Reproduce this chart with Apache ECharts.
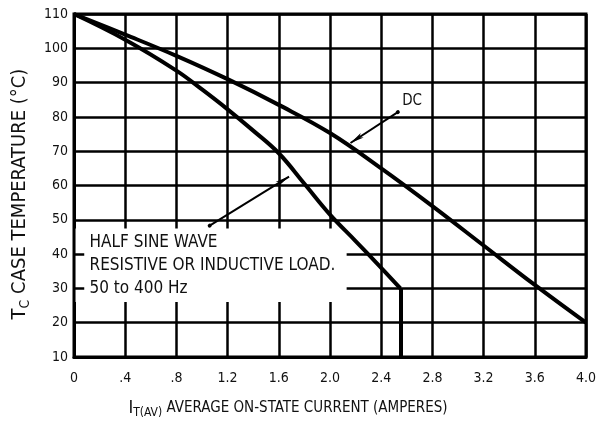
<!DOCTYPE html>
<html>
<head>
<meta charset="utf-8">
<script src="https://cdn.jsdelivr.net/npm/echarts@6/dist/echarts.min.js"></script>
<style>
html,body{margin:0;padding:0;background:#fff;}
#c{width:599px;height:425px;}
</style>
</head>
<body>
<div id="c"></div>
<script>
// Data
var xTickLabels = ['0', '.4', '.8', '1.2', '1.6', '2.0', '2.4', '2.8', '3.2', '3.6', '4.0'];
var dcCurve = [[0,110],[0.4,104],[0.8,97.8],[1.2,91],[1.6,83.5],[2.0,75.3],[2.4,65],[2.8,54],[3.2,42.5],[3.6,31],[4.0,20]];
var halfSineCurve = [[0,110],[0.4,102.5],[0.8,93.5],[1.0,88],[1.2,82.2],[1.4,76],[1.6,69.4],[1.8,60.5],[2.0,51.5],[2.2,43.8],[2.4,36],[2.55,30]];
var halfSineDrop = [[2.55,30],[2.55,10]];
var noteBox = [[0.012,47.5],[2.13,26]];
var noteLines = ['HALF SINE WAVE', 'RESISTIVE OR INDUCTIVE LOAD.', '50 to 400 Hz'];
var dcArrow = [[2.53,81.4],[2.16,72.4]];
var halfSineArrow = [[1.06,48.3],[1.68,62.6]];
var dcLabelAt = [2.56,84.6];
var leftTicks = [40,30];

var FONT = '"DejaVu Sans Condensed", "Liberation Sans Narrow", "Arial Narrow", sans-serif';
var chart = echarts.init(document.getElementById('c'), null, {renderer:'canvas'});

var tickMarkLines = leftTicks.map(function(v){
  return [{coord:[0,v]},{coord:[0.08,v]}];
});

chart.setOption({
  backgroundColor:'#fff',
  animation:false,
  grid:{left:74,right:11,top:14,bottom:68,show:true,borderColor:'#000',borderWidth:3,backgroundColor:'#fff'},
  xAxis:{
    type:'value',min:0,max:4,interval:0.4,
    axisLine:{show:true,lineStyle:{color:'#000',width:3}},
    axisTick:{show:false},
    splitLine:{show:true,lineStyle:{color:'#000',width:2.5}},
    axisLabel:{color:'#111',fontFamily:FONT,fontSize:14,margin:14,
      formatter:function(v){return xTickLabels[Math.round(v/0.4)];}},
    name:'{big|I}{sub|T(AV)} AVERAGE ON-STATE CURRENT (AMPERES)',
    nameLocation:'middle',nameGap:41,
    nameTextStyle:{color:'#111',fontFamily:FONT,fontSize:15,padding:[0,84,0,0],
      rich:{big:{fontFamily:FONT,fontSize:18,color:'#111'},sub:{fontFamily:FONT,fontSize:12,color:'#111',padding:[9,0,0,0]}}}
  },
  yAxis:{
    type:'value',min:10,max:110,interval:10,
    axisLine:{show:true,lineStyle:{color:'#000',width:3}},
    axisTick:{show:false},
    splitLine:{show:true,lineStyle:{color:'#000',width:2.5}},
    axisLabel:{color:'#111',fontFamily:FONT,fontSize:14,margin:6},
    name:'T{sub|C} CASE TEMPERATURE (°C)',
    nameLocation:'middle',nameGap:42,nameRotate:90,
    nameTextStyle:{color:'#111',fontFamily:FONT,fontSize:20,padding:[0,17,0,0],
      rich:{sub:{fontFamily:FONT,fontSize:14,color:'#111',padding:[11,0,0,0]}}}
  },
  series:[
    {
      type:'line',data:[],z:1,silent:true,
      markArea:{silent:true,itemStyle:{color:'#fff',opacity:1},
        label:{show:true,position:'insideTopLeft',distance:0,padding:[3,0,0,14],color:'#111',fontFamily:FONT,fontSize:17,lineHeight:23,
          formatter:noteLines.join('\n')},
        data:[[{coord:noteBox[0]},{coord:noteBox[1]}]]}
    },
    {
      type:'line',name:'DC',data:dcCurve,z:3,showSymbol:false,smooth:0.4,
      lineStyle:{color:'#000',width:4},
      markLine:{silent:true,symbol:['circle','arrow'],symbolSize:[4,14],
        lineStyle:{color:'#000',width:2,type:'solid'},label:{show:false},
        data:[[{coord:dcArrow[0]},{coord:dcArrow[1]}],[{coord:halfSineArrow[0]},{coord:halfSineArrow[1]}]]},
      markPoint:{silent:true,symbol:'circle',symbolSize:1,itemStyle:{color:'#fff'},
        label:{show:true,position:'right',distance:0,formatter:'DC',color:'#111',fontFamily:FONT,fontSize:15},
        data:[{coord:dcLabelAt}]}
    },
    {
      type:'line',name:'Half sine',data:halfSineCurve,z:3,showSymbol:false,smooth:0.4,
      lineStyle:{color:'#000',width:4},
      markLine:{silent:true,symbol:['none','none'],
        lineStyle:{color:'#000',width:2.5,type:'solid'},label:{show:false},
        data:tickMarkLines.concat([[{coord:halfSineDrop[0],lineStyle:{width:4}},{coord:halfSineDrop[1]}]])}
    }
  ]
});
</script>
</body>
</html>
